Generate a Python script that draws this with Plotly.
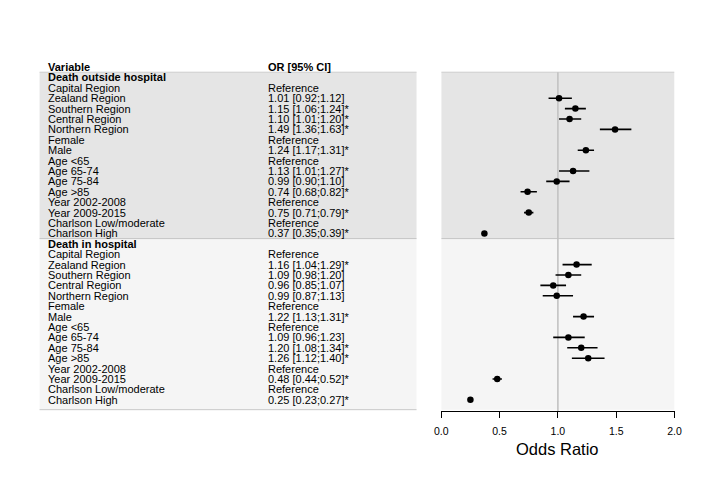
import plotly.graph_objects as go

# ---------------- data ----------------
variables = ["Capital Region", "Zealand Region", "Southern Region", "Central Region",
             "Northern Region", "Female", "Male", "Age <65", "Age 65-74", "Age 75-84",
             "Age >85", "Year 2002-2008", "Year 2009-2015", "Charlson Low/moderate",
             "Charlson High"]
sections = ["Death outside hospital", "Death in hospital"]

out_or = [None, 1.01, 1.15, 1.10, 1.49, None, 1.24, None, 1.13, 0.99, 0.74, None, 0.75, None, 0.37]
out_lo = [None, 0.92, 1.06, 1.01, 1.36, None, 1.17, None, 1.01, 0.90, 0.68, None, 0.71, None, 0.35]
out_hi = [None, 1.12, 1.24, 1.20, 1.63, None, 1.31, None, 1.27, 1.10, 0.82, None, 0.79, None, 0.39]

in_or = [None, 1.16, 1.09, 0.96, 0.99, None, 1.22, None, 1.09, 1.20, 1.26, None, 0.48, None, 0.25]
in_lo = [None, 1.04, 0.98, 0.85, 0.87, None, 1.13, None, 0.96, 1.08, 1.12, None, 0.44, None, 0.23]
in_hi = [None, 1.29, 1.20, 1.07, 1.13, None, 1.31, None, 1.23, 1.34, 1.40, None, 0.52, None, 0.27]

x_ticks = [0.0, 0.5, 1.0, 1.5, 2.0]
x_tick_labels = ["0.0", "0.5", "1.0", "1.5", "2.0"]

# ---------------- layout constants ----------------
W, H = 708, 492
ROW_H = 10.4
ROW0_PX = 67          # pixel y of header row
AXIS_PX = 411         # pixel y of x axis
FONT = "Liberation Sans, Arial, sans-serif"
FS = 11

y_top = -ROW0_PX / ROW_H
y_bot = (AXIS_PX - ROW0_PX) / ROW_H

# build rows
rows = []  # (row_index, label, bold, or, lo, hi, ref)
r = 1
for sec, (ors, los, his) in zip(sections, [(out_or, out_lo, out_hi), (in_or, in_lo, in_hi)]):
    rows.append((r, sec, True, None, None, None, False))
    r += 1
    for v, o, l, h in zip(variables, ors, los, his):
        rows.append((r, v, False, o, l, h, o is None))
        r += 1

fig = go.Figure()

# point estimates with CI
px, py, pm, pp = [], [], [], []
for (ri, lab, bold, o, l, h, ref) in rows:
    if o is not None:
        px.append(o); py.append(ri); pm.append(o - l); pp.append(h - o)

fig.add_trace(go.Scatter(
    x=px, y=py, mode="markers", xaxis="x2", yaxis="y",
    marker=dict(color="black", size=6.5),
    error_x=dict(type="data", symmetric=False, array=pp, arrayminus=pm,
                 color="black", thickness=1.6, width=0),
    hoverinfo="skip", showlegend=False))

# table text
annotations = []
def ann(x, y, text):
    annotations.append(dict(x=x, y=y, xref="x", yref="y", text=text, showarrow=False,
                            xanchor="left", yanchor="middle",
                            font=dict(family=FONT, size=FS, color="black")))

ann(40, 0, "<b>Variable</b>")
ann(264, 0, "<b>OR [95% CI]</b>")
for (ri, lab, bold, o, l, h, ref) in rows:
    ann(40, ri, f"<b>{lab}</b>" if bold else lab)
    if bold:
        continue
    if ref:
        ann(264, ri, "Reference")
    else:
        star = "*" if (l > 1 or h < 1) else ""
        ann(264, ri, f"{o:.2f} [{l:.2f};{h:.2f}]{star}")

annotations.append(dict(x=1.0, y=1 - 449 / H, xref="x2", yref="paper", yanchor="middle",
                        text="Odds Ratio", showarrow=False,
                        font=dict(family=FONT, size=16.5, color="black")))

# background shapes
shapes = []
split = 16.5
top = 0.5
bottom = 32.95
for xr, x0, x1 in [("x", 33, 418), ("x2", 0, 2)]:
    shapes.append(dict(type="rect", xref=xr, yref="y", x0=x0, x1=x1, y0=top, y1=split,
                       fillcolor="#e5e5e5", line=dict(width=0), layer="below"))
    shapes.append(dict(type="rect", xref=xr, yref="y", x0=x0, x1=x1, y0=split, y1=bottom,
                       fillcolor="#f5f5f5", line=dict(width=0), layer="below"))
    shapes.append(dict(type="line", xref=xr, yref="y", x0=x0, x1=x1, y0=top, y1=top,
                       line=dict(color="#cdcdcd", width=1), layer="below"))
    shapes.append(dict(type="line", xref=xr, yref="y", x0=x0, x1=x1, y0=split, y1=split,
                       line=dict(color="#c4c4c4", width=1), layer="below"))
shapes.append(dict(type="line", xref="x", yref="y", x0=33, x1=418, y0=bottom, y1=bottom,
                   line=dict(color="#c8c8c8", width=1), layer="below"))
# reference line at OR = 1
shapes.append(dict(type="line", xref="x2", yref="y", x0=1, x1=1, y0=top, y1=y_bot,
                   line=dict(color="#c2c2c2", width=1.6), layer="below"))

y_dom0 = (H - AXIS_PX) / H

fig.update_layout(
    width=W, height=H, autosize=False,
    margin=dict(l=0, r=0, t=0, b=0),
    paper_bgcolor="white", plot_bgcolor="white",
    showlegend=False,
    xaxis=dict(domain=[33 / W, 418 / W], range=[33, 418], visible=False, fixedrange=True),
    xaxis2=dict(domain=[443 / W, 681 / W], range=[0, 2], anchor="y",
                tickvals=x_ticks, ticktext=x_tick_labels,
                ticks="outside", ticklen=6, tickwidth=1, tickcolor="black",
                ticklabelstandoff=4,
                showline=True, linecolor="black", linewidth=1,
                showgrid=False, zeroline=False,
                tickfont=dict(family=FONT, size=10.5, color="black")),
    yaxis=dict(domain=[y_dom0, 1], range=[y_bot, y_top], visible=False,
               showgrid=False, zeroline=False),
    annotations=annotations,
    shapes=shapes,
)

post = (
    "document.documentElement.style.margin='0';"
    "document.body.style.margin='0';"
    "document.body.style.padding='0';"
    "document.body.style.overflow='hidden';"
)

fig.write_html("out.html",
               config={"displayModeBar": False, "responsive": False},
               post_script=post)
